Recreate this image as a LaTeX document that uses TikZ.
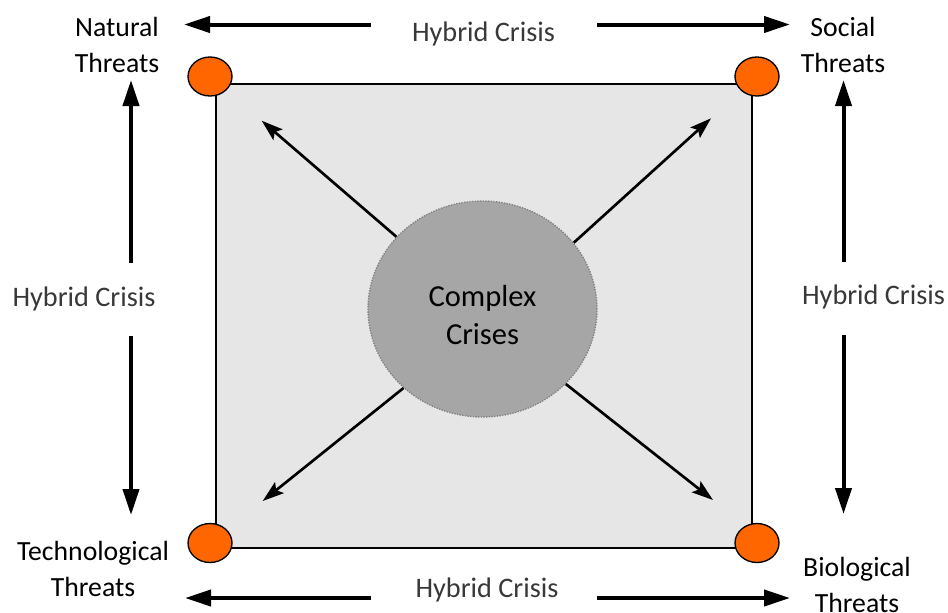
\documentclass[tikz,border=0pt]{standalone}
\usepackage{fontspec}
\setmainfont{Carlito}
\usetikzlibrary{shapes.geometric,arrows.meta}
\definecolor{boxgray}{HTML}{E6E6E6}
\definecolor{hubgray}{HTML}{A6A6A6}
\definecolor{dotgray}{HTML}{808080}
\definecolor{cornerorange}{HTML}{FF6600}
\tikzset{
  threat/.style={font=\fontsize{20.8}{27}\selectfont, align=center, inner sep=0pt, anchor=base},
  hybrid/.style={font=\fontsize{21.2}{25}\selectfont, text=black!78, inner sep=0pt, anchor=base},
  corner/.style={ellipse, draw=black, line width=1pt, fill=cornerorange, minimum width=33pt, minimum height=29.25pt, inner sep=0pt},
  hub/.style={ellipse, draw=dotgray, densely dotted, line width=1pt, fill=hubgray, minimum width=171.75pt, minimum height=162pt, inner sep=0pt},
  hubtext/.style={font=\fontsize{22.9}{28.5}\selectfont, align=center, inner sep=0pt, anchor=base},
  bigarrow/.style={line width=3pt, -{Triangle[length=19.5pt,width=12pt]}},
  diagarrow/.style={line width=2pt, -{Stealth[length=16pt,width=10.5pt,inset=3pt]}},
  panel/.style={draw=black, line width=1pt, fill=boxgray}
}
\begin{document}
\begin{tikzpicture}[x=0.75pt,y=-0.75pt]
\useasboundingbox (0,0) rectangle (948,612);
% panel
\draw[panel] (216,84) rectangle (752,548);
% corner circles
\node[corner] (cNW) at (210,76.5) {};
\node[corner] (cNE) at (757,76.5) {};
\node[corner] (cSW) at (210,543) {};
\node[corner] (cSE) at (757,543) {};
% hub
\node[hub] (hub) at (482.5,309) {};
\node[hubtext] (hubt) at (482.5,344.3) {Complex\\Crises};
% diagonal arrow ends
\coordinate (dNW) at (261.7,120.7);
\coordinate (dNE) at (711,118.3);
\coordinate (dSW) at (262.7,501);
\coordinate (dSE) at (713,500);
\draw[diagarrow] (hub.140.1) -- (dNW);
\draw[diagarrow] (hub.36.7) -- (dNE);
\draw[diagarrow] (hub.225.7) -- (dSW);
\draw[diagarrow] (hub.318.7) -- (dSE);
% threat labels (anchored at the baseline of their last line)
\node[threat] (natural) at (117,72) {Natural\\Threats};
\node[threat] (social) at (843,72) {Social\\Threats};
\node[threat] (techno) at (93,596.7) {Technological\\Threats};
\node[threat] (bio) at (857,612) {Biological\\Threats};
% hybrid labels
\node[hybrid] (hTop) at (483.5,41.7) {Hybrid Crisis};
\node[hybrid] (hBot) at (487,597) {Hybrid Crisis};
\node[hybrid] (hLeft) at (84,306.7) {Hybrid Crisis};
\node[hybrid] (hRight) at (873.5,304) {Hybrid Crisis};
% arrow coordinates
\coordinate (tA) at (371,24.5);  \coordinate (tAtip) at (184,24.5);
\coordinate (tB) at (597,24.5);  \coordinate (tBtip) at (790,24.5);
\coordinate (bA) at (371,598);   \coordinate (bAtip) at (185,598);
\coordinate (bB) at (597,598);   \coordinate (bBtip) at (790,598);
\coordinate (lA) at (131,263);   \coordinate (lAtip) at (131,80);
\coordinate (lB) at (131,336);   \coordinate (lBtip) at (131,515);
\coordinate (rA) at (843.5,262); \coordinate (rAtip) at (843.5,80);
\coordinate (rB) at (843.5,335); \coordinate (rBtip) at (843.5,514);
\draw[bigarrow] (tA) -- (tAtip);
\draw[bigarrow] (tB) -- (tBtip);
\draw[bigarrow] (bA) -- (bAtip);
\draw[bigarrow] (bB) -- (bBtip);
\draw[bigarrow] (lA) -- (lAtip);
\draw[bigarrow] (lB) -- (lBtip);
\draw[bigarrow] (rA) -- (rAtip);
\draw[bigarrow] (rB) -- (rBtip);
\end{tikzpicture}
\end{document}
